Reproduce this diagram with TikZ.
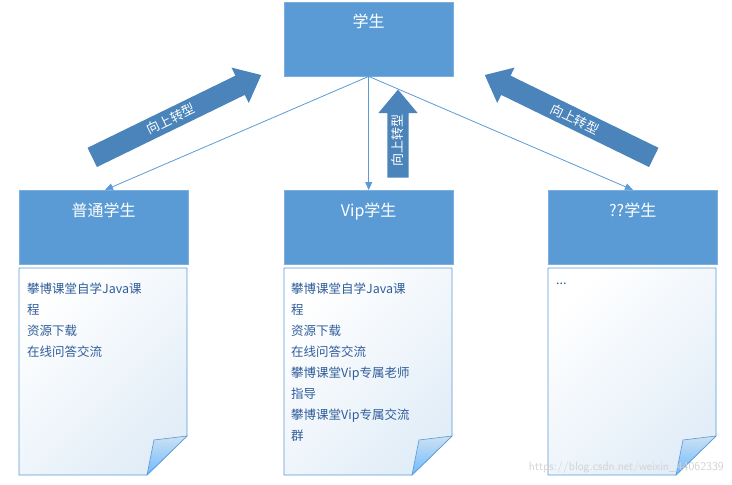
\documentclass[tikz,border=0pt]{standalone}
\usepackage{fontspec}
\newfontfamily\cjk{Noto Sans CJK SC}
\usetikzlibrary{shapes.arrows,arrows.meta}
\definecolor{boxblue}{HTML}{5B9BD5}
\definecolor{arrblue}{HTML}{4A84BA}
\definecolor{txtblue}{HTML}{2F5D9A}
\tikzset{
  head/.style={draw=boxblue!80!white,fill=boxblue,minimum width=169pt,minimum height=74pt,anchor=north west,inner sep=0pt},
  htext/.style={text=white,font=\cjk\fontsize{16}{16}\selectfont},
  conn/.style={draw=boxblue,line width=0.8pt,-{Triangle[length=8pt,width=7pt]}},
  fat/.style={single arrow,fill=arrblue,draw=none,text=white,font=\cjk\fontsize{13}{13}\selectfont,inner sep=4.5pt,single arrow head extend=9pt,single arrow tip angle=80},
  notetext/.style={anchor=north west,align=left,text=txtblue,font=\cjk\fontsize{12.5}{21}\selectfont,inner sep=0pt}
}
\newcommand{\mynote}[2]{%
  \shade[left color=white,right color=boxblue!18,shading angle=45,draw=boxblue,line width=0.8pt]
    (#1,-268)--(#1+168,-268)--(#1+168,-436)--(#1+128,-475)--(#1,-475)--cycle;
  \shade[top color=boxblue!30,bottom color=boxblue!120!black,draw=boxblue,line width=0.6pt]
    (#1+168,-436)--(#1+128,-475)--(#1+135,-440)--cycle;
}
\begin{document}
\begin{tikzpicture}[x=1pt,y=1pt]
\useasboundingbox (0,0) rectangle (732,-485);
\node[head] (top) at (284,-2) {};
\node[htext,anchor=north] at ([yshift=-8pt]top.north) {学生};
\node[head] (a) at (19,-190) {};
\node[htext,anchor=north] at ([yshift=-9pt]a.north) {普通学生};
\node[head] (b) at (284,-190) {};
\node[htext,anchor=north] at ([yshift=-9pt]b.north) {Vip学生};
\node[head] (c) at (548,-190) {};
\node[htext,anchor=north] at ([yshift=-9pt]c.north) {??学生};
\coordinate (ta) at (105,-190);
\coordinate (tc) at (633,-190);
\draw[conn] (top.south) -- (ta);
\draw[conn] (top.south) -- (b.north);
\draw[conn] (top.south) -- (tc);
\node[fat,minimum height=188pt,rotate=26] (fa) at (171,-119) {向上转型};
\node[fat,minimum height=188pt,rotate=154] (fc) at (575,-119) {\rotatebox{180}{向上转型}};
\node[fat,minimum height=88pt,rotate=90] (fb) at (398,-140) {向上转型};
\mynote{19}{}
\mynote{284}{}
\mynote{548}{}
\node[notetext] (na) at (27,-283) {攀博课堂自学Java课\\程\\资源下载\\在线问答交流};
\node[notetext] (nb) at (291,-283) {攀博课堂自学Java课\\程\\资源下载\\在线问答交流\\攀博课堂Vip专属老师\\指导\\攀博课堂Vip专属交流\\群};
\node[notetext] (nc) at (556,-283) {...};
\node[anchor=south east,text=gray!35,font=\sffamily\fontsize{12}{12}\selectfont,inner sep=0pt] (wm) at (724,-474) {https://blog.csdn.net/weixin\_44062339};
\end{tikzpicture}
\end{document}
